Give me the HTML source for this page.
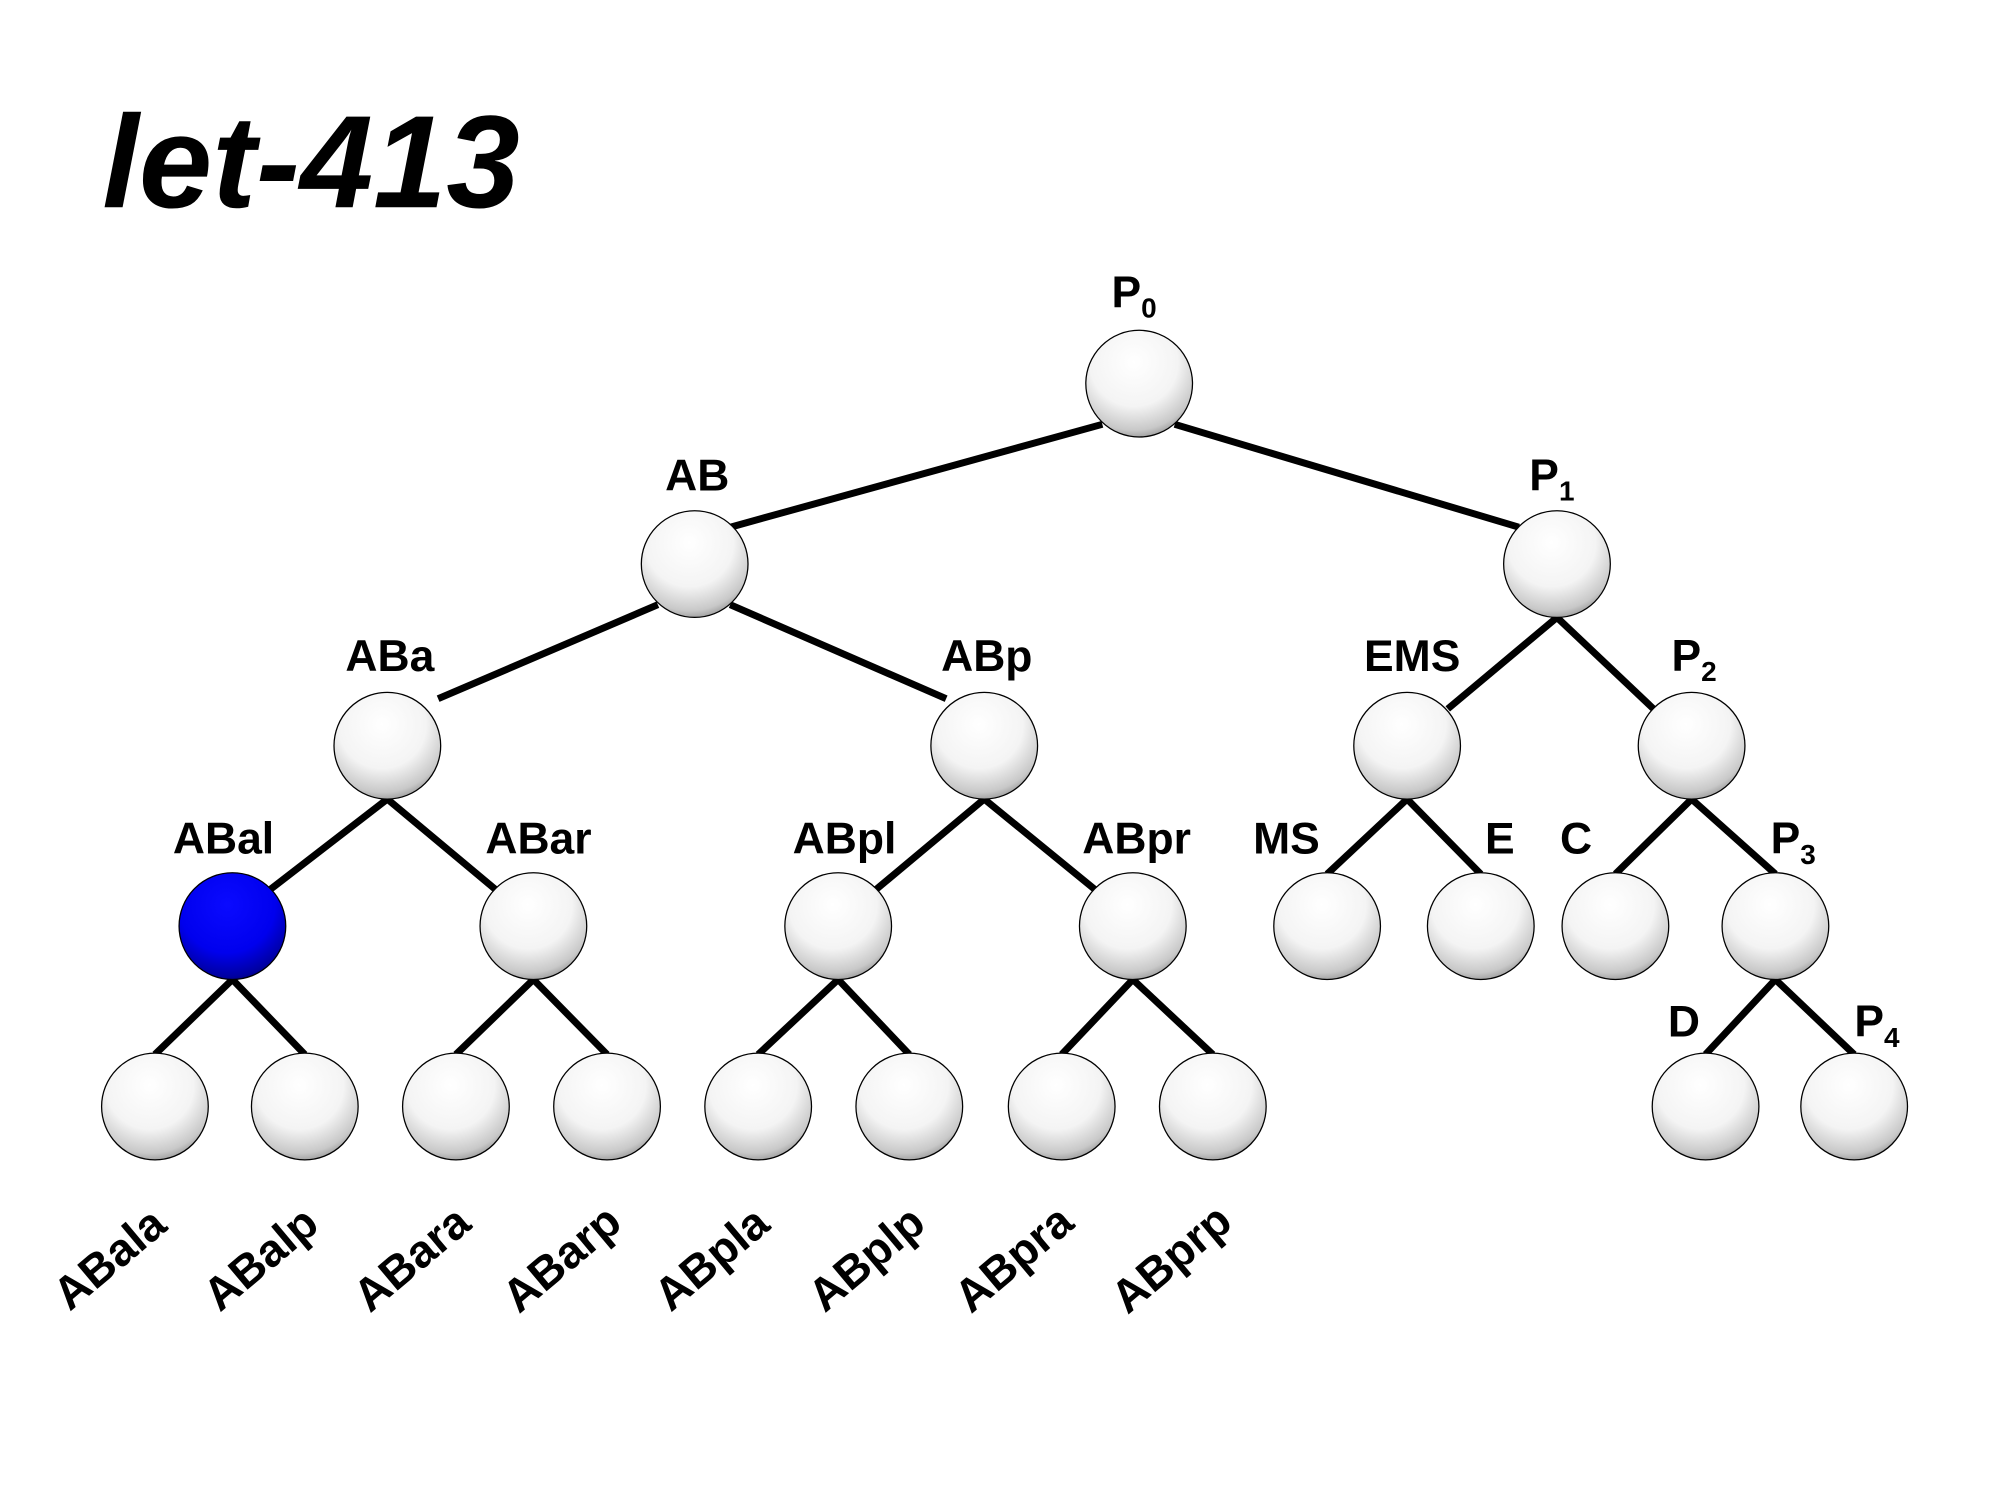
<!DOCTYPE html>
<html><head><meta charset="utf-8"><style>html,body{margin:0;padding:0;background:#fff}svg{display:block}</style></head>
<body>
<svg width="1990" height="1493" viewBox="0 0 1556 1167" preserveAspectRatio="none" xmlns="http://www.w3.org/2000/svg" font-family="Liberation Sans, Arial, sans-serif" font-weight="bold">
<defs>
<radialGradient id="w" cx="0.45" cy="0.3" r="0.75">
<stop offset="0" stop-color="#ffffff"/><stop offset="0.55" stop-color="#f4f4f4"/><stop offset="0.85" stop-color="#c8c8c8"/><stop offset="1" stop-color="#8a8a8a"/></radialGradient>
<radialGradient id="b" cx="0.45" cy="0.3" r="0.75">
<stop offset="0" stop-color="#0a0aff"/><stop offset="0.6" stop-color="#0000ee"/><stop offset="0.9" stop-color="#0000a0"/><stop offset="1" stop-color="#000060"/></radialGradient>
</defs>
<text x="80" y="162" font-size="103" font-style="italic">let-413</text>
<g transform="scale(0.993)">
<g stroke="#000" stroke-width="5.5" fill="none">
<line x1="868" y1="334" x2="575" y2="415"/>
<line x1="925" y1="334" x2="1196" y2="415"/>
<line x1="518" y1="476" x2="345" y2="550"/>
<line x1="575" y1="476" x2="745" y2="550"/>
<line x1="1226" y1="486" x2="1140" y2="558"/>
<line x1="1226" y1="486" x2="1302" y2="558"/>
<line x1="305" y1="629" x2="213" y2="700"/>
<line x1="305" y1="629" x2="390" y2="700"/>
<line x1="775" y1="629" x2="690" y2="700"/>
<line x1="775" y1="629" x2="862" y2="700"/>
<line x1="1108" y1="629" x2="1045" y2="688"/>
<line x1="1108" y1="629" x2="1166" y2="688"/>
<line x1="1332" y1="629" x2="1272" y2="688"/>
<line x1="1332" y1="629" x2="1398" y2="688"/>
<line x1="183" y1="771" x2="122" y2="830"/>
<line x1="183" y1="771" x2="240" y2="830"/>
<line x1="420" y1="771" x2="359" y2="830"/>
<line x1="420" y1="771" x2="478" y2="830"/>
<line x1="660" y1="771" x2="597" y2="830"/>
<line x1="660" y1="771" x2="716" y2="830"/>
<line x1="892" y1="771" x2="836" y2="830"/>
<line x1="892" y1="771" x2="955" y2="830"/>
<line x1="1398" y1="771" x2="1343" y2="830"/>
<line x1="1398" y1="771" x2="1460" y2="830"/>
</g>
<g stroke="#000" stroke-width="1" fill="url(#w)">
<circle cx="897" cy="302" r="42"/>
<circle cx="547" cy="444" r="42"/>
<circle cx="1226" cy="444" r="42"/>
<circle cx="305" cy="587" r="42"/>
<circle cx="775" cy="587" r="42"/>
<circle cx="1108" cy="587" r="42"/>
<circle cx="1332" cy="587" r="42"/>
<circle cx="183" cy="729" r="42" fill="url(#b)"/>
<circle cx="420" cy="729" r="42"/>
<circle cx="660" cy="729" r="42"/>
<circle cx="892" cy="729" r="42"/>
<circle cx="1045" cy="729" r="42"/>
<circle cx="1166" cy="729" r="42"/>
<circle cx="1272" cy="729" r="42"/>
<circle cx="1398" cy="729" r="42"/>
<circle cx="122" cy="871" r="42"/>
<circle cx="240" cy="871" r="42"/>
<circle cx="359" cy="871" r="42"/>
<circle cx="478" cy="871" r="42"/>
<circle cx="597" cy="871" r="42"/>
<circle cx="716" cy="871" r="42"/>
<circle cx="836" cy="871" r="42"/>
<circle cx="955" cy="871" r="42"/>
<circle cx="1343" cy="871" r="42"/>
<circle cx="1460" cy="871" r="42"/>
</g>
<g font-size="35" text-anchor="middle">
<text x="893" y="242">P<tspan font-size="22" dy="8">0</tspan></text>
<text x="549" y="386">AB</text>
<text x="1222" y="386">P<tspan font-size="22" dy="8">1</tspan></text>
<text x="307" y="528">ABa</text>
<text x="777" y="528">ABp</text>
<text x="1112" y="528">EMS</text>
<text x="1334" y="528">P<tspan font-size="22" dy="8">2</tspan></text>
<text x="176" y="672">ABal</text>
<text x="424" y="672">ABar</text>
<text x="665" y="672">ABpl</text>
<text x="895" y="672">ABpr</text>
<text x="1013" y="672">MS</text>
<text x="1181" y="672">E</text>
<text x="1241" y="672">C</text>
<text x="1412" y="672">P<tspan font-size="22" dy="8">3</tspan></text>
<text x="1326" y="816">D</text>
<text x="1478" y="816">P<tspan font-size="22" dy="8">4</tspan></text>
</g>
<g font-size="36" text-anchor="middle">
<text transform="translate(94,1000) rotate(-40)">ABala</text>
<text transform="translate(213,1000) rotate(-40)">ABalp</text>
<text transform="translate(332,1000) rotate(-40)">ABara</text>
<text transform="translate(450,1000) rotate(-40)">ABarp</text>
<text transform="translate(568,1000) rotate(-40)">ABpla</text>
<text transform="translate(690,1000) rotate(-40)">ABplp</text>
<text transform="translate(806,1000) rotate(-40)">ABpra</text>
<text transform="translate(930,1000) rotate(-40)">ABprp</text>
</g>
</g>
</svg>
</body></html>
